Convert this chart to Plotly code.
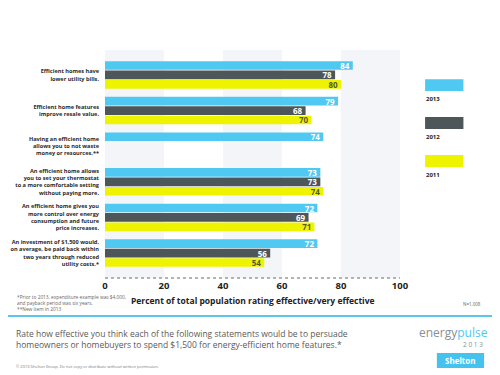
import plotly.graph_objects as go

categories = [
    "Efficient homes have<br>lower utility bills.",
    "Efficient home features<br>improve resale value.",
    "Having an efficient home<br>allows you to not waste<br>money or resources.**",
    "An efficient home allows<br>you to set your thermostat<br>to a more comfortable setting<br>without paying more.",
    "An efficient home gives you<br>more control over energy<br>consumption and future<br>price increases.",
    "An investment of $1,500 would,<br>on average, be paid back within<br>two years through reduced<br>utility costs.*",
]
v2013 = [84, 79, 74, 73, 72, 72]
v2012 = [78, 68, None, 73, 69, 56]
v2011 = [80, 70, None, 74, 71, 54]
series_names = ["2013", "2012", "2011"]
x_ticks = [0, 20, 40, 60, 80, 100]
bands = [(0, 20), (40, 60), (80, 100)]

colors = ["#4FC9F2", "#4D5759", "#EEF400"]
text_colors = ["white", "white", "#555a2a"]
FONT = "Open Sans"

fig = go.Figure()
for name, vals, c, tc in zip(series_names, [v2013, v2012, v2011], colors, text_colors):
    fig.add_trace(go.Bar(
        y=categories, x=vals, name=name, orientation="h",
        marker=dict(color=c, line=dict(width=0)),
        text=[f"<b>{v}</b>" if v is not None else "" for v in vals],
        textposition="inside", insidetextanchor="end", textangle=0,
        textfont=dict(family=FONT, size=8, color=tc),
        constraintext="none", cliponaxis=False,
        showlegend=False,
    ))

shapes = []
for a, b in bands:
    shapes.append(dict(type="rect", xref="x", yref="paper", x0=a, x1=b, y0=0, y1=1,
                       fillcolor="#F3F5F8", line=dict(width=0), layer="below"))
# dotted baseline
shapes.append(dict(type="line", xref="x", yref="paper", x0=0, x1=100, y0=0, y1=0,
                   line=dict(color="#9a9a9a", width=1.3, dash="dot")))
# cyan separator
shapes.append(dict(type="line", xref="paper", yref="paper", x0=-0.36, x1=1.34, y0=-0.167, y1=-0.167,
                   line=dict(color="#5CC6EA", width=2)))

annotations = []
# custom legend
leg_y = [0.82, 0.654, 0.487]
for name, c, yy in zip(series_names, colors, leg_y):
    shapes.append(dict(type="rect", xref="paper", yref="paper", x0=1.085, x1=1.215,
                       y0=yy, y1=yy + 0.052, fillcolor=c, line=dict(width=0)))
    annotations.append(dict(xref="paper", yref="paper", x=1.083, y=yy - 0.008, text=f"<b>{name}</b>",
                            showarrow=False, xanchor="left", yanchor="top",
                            font=dict(family=FONT, size=6, color="#222")))

# Shelton box
shapes.append(dict(type="rect", xref="paper", yref="paper", x0=1.125, x1=1.285, y0=-0.395, y1=-0.329,
                   fillcolor="#45C3EE", line=dict(width=0)))

annotations += [
    dict(xref="paper", yref="paper", x=0.5, y=-0.1, text="<b>Percent of total population rating effective/very effective</b>",
         showarrow=False, xanchor="center", yanchor="middle", font=dict(family=FONT, size=8.5, color="#222")),
    dict(xref="paper", yref="paper", x=-0.305, y=-0.062, align="left",
         text="*Prior to 2013, expenditure example was $4,000,<br>and payback period was six years.<br>**New item in 2013",
         showarrow=False, xanchor="left", yanchor="top", font=dict(family=FONT, size=4.8, color="#666")),
    dict(xref="paper", yref="paper", x=1.281, y=-0.114, text="N=1,008",
         showarrow=False, xanchor="right", yanchor="middle", font=dict(family=FONT, size=4.5, color="#666")),
    dict(xref="paper", yref="paper", x=-0.31, y=-0.212, align="left",
         text="Rate how effective you think each of the following statements would be to persuade<br>homeowners or homebuyers to spend $1,500 for energy-efficient home features.*",
         showarrow=False, xanchor="left", yanchor="top", font=dict(family=FONT, size=8.5, color="#5a5a5a")),
    dict(xref="paper", yref="paper", x=-0.31, y=-0.386, text="© 2013 Shelton Group. Do not copy or distribute without written permission.",
         showarrow=False, xanchor="left", yanchor="middle", font=dict(family=FONT, size=4, color="#777")),
    dict(xref="paper", yref="paper", x=1.305, y=-0.241,
         text="<span style='color:#8a8f92'>energy</span><span style='color:#4FC9F2'>pulse</span>",
         showarrow=False, xanchor="right", yanchor="middle", font=dict(family=FONT, size=12)),
    dict(xref="paper", yref="paper", x=1.288, y=-0.29, text="2 0 1 3",
         showarrow=False, xanchor="right", yanchor="middle", font=dict(family=FONT, size=6.5, color="#8a8f92")),
    dict(xref="paper", yref="paper", x=1.205, y=-0.362, text="<b>Shelton</b>",
         showarrow=False, xanchor="center", yanchor="middle", font=dict(family=FONT, size=8, color="white")),
]

# page has an 8px body margin; size the figure so it fits the 500x375 window
fig.update_layout(
    width=492, height=367,
    margin=dict(l=97, r=100, t=42, b=97),
    paper_bgcolor="white", plot_bgcolor="white",
    barmode="group", bargap=0.21, bargroupgap=0.08,
    shapes=shapes, annotations=annotations,
    xaxis=dict(range=[0, 100], tickvals=x_ticks, ticktext=[f"<b>{t}</b>" for t in x_ticks],
               showgrid=False, zeroline=False, showline=False, ticks="", automargin=False,
               tickfont=dict(family=FONT, size=9.5, color="#222"), fixedrange=True),
    yaxis=dict(type="category", categoryorder="array", categoryarray=categories,
               tickvals=categories, ticktext=[f"<b>{c}</b>" for c in categories],
               range=[5.7, -0.7], showgrid=False, zeroline=False, ticks="", ticklen=0,
               automargin=False, ticklabelstandoff=5,
               tickfont=dict(family=FONT, size=5.6, color="#2a2a2a"), fixedrange=True),
    font=dict(family=FONT),
)

fig.write_html("out.html")
